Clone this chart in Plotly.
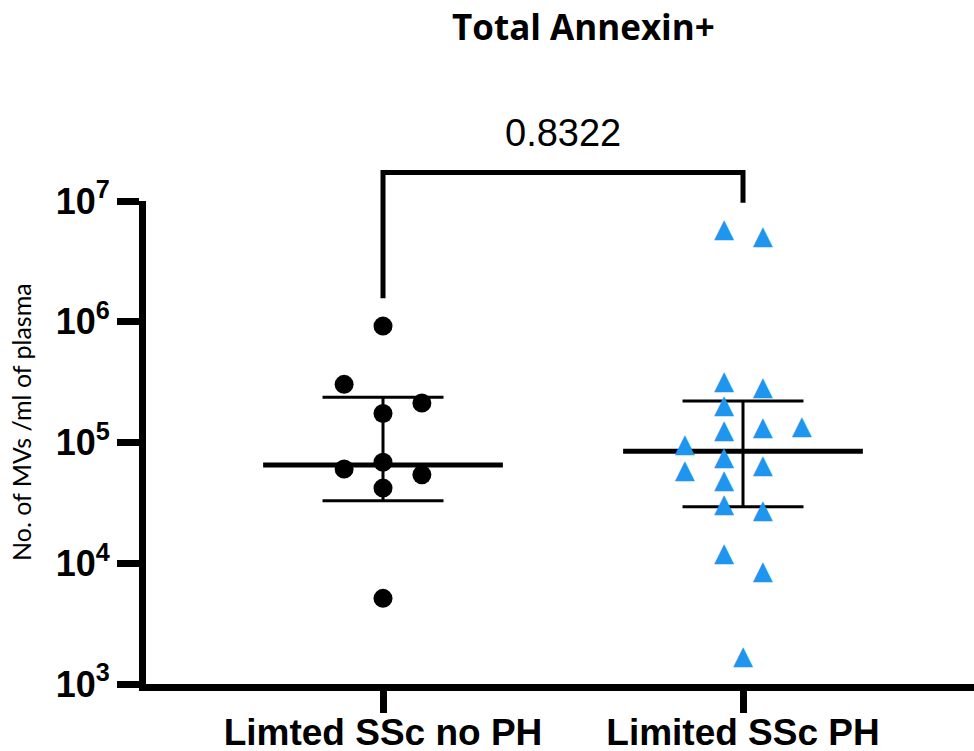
import numpy as np
import plotly.graph_objects as go

# ---- data -------------------------------------------------------------
title_text = "Total Annexin+"
y_title = "No. of MVs /ml of plasma"
groups = ["Limted SSc no PH", "Limited SSc PH"]

no_ph = [9.2e5, 3.03e5, 2.12e5, 1.74e5, 6.87e4, 6.04e4, 5.40e4, 4.19e4, 5.12e3]
ph = [5.69e6, 4.98e6, 3.14e5, 2.80e5, 1.99e5, 1.24e5, 1.31e5, 1.32e5, 9.41e4,
      7.41e4, 5.74e4, 6.36e4, 4.75e4, 2.98e4, 2.69e4, 1.18e4, 8.39e3, 1.66e3]

medians = [6.52e4, 8.46e4]
lower = [3.29e4, 2.94e4]
upper = [2.37e5, 2.21e5]

p_value = "0.8322"
y_exponents = [3, 4, 5, 6, 7]

# ---- horizontal spread of the dots inside each column ----------------
spread_no_ph = [0, -0.108, 0.108, 0, 0, -0.108, 0.108, 0, 0]
spread_ph = [-0.053, 0.055, -0.053, 0.055, -0.053, -0.053, 0.055, 0.163, -0.162,
             -0.053, -0.162, 0.055, -0.053, -0.053, 0.055, -0.053, 0.055, 0]

# ---- geometry ---------------------------------------------------------
W, H = 974, 751
M_L, M_R, M_T, M_B = 146, 0, 140, 67
plot_w = W - M_L - M_R
plot_h = H - M_T - M_B
px_per_cat = 360.0
x0_px = 383 - M_L
x_range = [-x0_px / px_per_cat, -x0_px / px_per_cat + plot_w / px_per_cat]

y_top_px = 201                     # pixel row of the highest decade
y_dom_top = (H - M_B - y_top_px) / plot_h
px_per_dec = (H - M_B - y_top_px) / (y_exponents[-1] - y_exponents[0])
y2_top = y_exponents[0] + plot_h / px_per_dec

BLUE = "#1E96F0"
AX_FONT = "Liberation Sans, Arial, sans-serif"

fig = go.Figure()

# median line and interval bars
for i in range(len(groups)):
    fig.add_trace(go.Scatter(
        x=[i - 0.333, i + 0.333], y=[medians[i], medians[i]],
        mode="lines", line=dict(color="black", width=5),
        hoverinfo="skip", showlegend=False))
    fig.add_trace(go.Scatter(
        x=[i, i, None, i - 0.168, i + 0.168, None, i - 0.168, i + 0.168],
        y=[lower[i], upper[i], None, lower[i], lower[i], None, upper[i], upper[i]],
        mode="lines", line=dict(color="black", width=3),
        hoverinfo="skip", showlegend=False))

# group without PH: black circles
fig.add_trace(go.Scatter(
    x=[0 + s for s in spread_no_ph], y=no_ph, mode="markers",
    marker=dict(symbol="circle", size=19, color="black"),
    name=groups[0], showlegend=False, cliponaxis=False))

# group with PH: blue triangles
fig.add_trace(go.Scatter(
    x=[1 + s for s in spread_ph], y=ph, mode="text", text=["▲"] * len(ph),
    textposition="middle center",
    textfont=dict(family="DejaVu Sans", size=26, color=BLUE),
    name=groups[1], showlegend=False, cliponaxis=False))

# comparison bracket
bracket_top = 1.72e7
fig.add_trace(go.Scatter(
    x=[0, 0, 1, 1],
    y=[max(no_ph) * 1.7, bracket_top, bracket_top, max(ph) * 1.7],
    xaxis="x", yaxis="y2", mode="lines",
    line=dict(color="black", width=5), hoverinfo="skip", showlegend=False))

fig.update_layout(
    width=W, height=H,
    margin=dict(l=M_L, r=M_R, t=M_T, b=M_B, autoexpand=False),
    paper_bgcolor="white", plot_bgcolor="rgba(0,0,0,0)",
    showlegend=False,
    xaxis=dict(
        range=x_range, showgrid=False, zeroline=False, automargin=False,
        showline=True, linecolor="black", linewidth=7,
        tickvals=list(range(len(groups))), ticktext=groups,
        ticks="outside", ticklen=22, tickwidth=7, tickcolor="black",
        ticklabelstandoff=-12,
        tickfont=dict(family=AX_FONT, size=37, color="black", weight="bold"),
        anchor="y"),
    yaxis=dict(
        type="log", range=[y_exponents[0], y_exponents[-1]],
        domain=[0, y_dom_top], showgrid=False, zeroline=False, automargin=False,
        showline=True, linecolor="black", linewidth=7,
        tickvals=[10 ** e for e in y_exponents],
        ticktext=[f"10<sup>{e}</sup>" for e in y_exponents],
        ticks="outside", ticklen=22, tickwidth=7, tickcolor="black",
        tickfont=dict(family=AX_FONT, size=36, color="black", weight="bold"),
        anchor="x"),
    yaxis2=dict(
        type="log", range=[y_exponents[0], y2_top], domain=[0, 1],
        visible=False, anchor="x", automargin=False),
    annotations=[
        dict(text=f"<b>{title_text}</b>", xref="paper", yref="paper",
             x=(583.5 - M_L) / plot_w, y=(H - M_B - 27) / plot_h,
             xanchor="center", yanchor="middle", showarrow=False,
             font=dict(family="Open Sans, sans-serif", size=35, color="black")),
        dict(text=p_value, xref="x", yref="paper", x=0.5,
             y=(H - M_B - 132.5) / plot_h,
             xanchor="center", yanchor="middle", showarrow=False,
             font=dict(family=AX_FONT, size=38, color="black")),
        dict(text=y_title, xref="paper", yref="paper",
             x=(21 - M_L) / plot_w, y=(H - M_B - 422) / plot_h,
             xanchor="center", yanchor="middle", textangle=-90, showarrow=False,
             font=dict(family="Lato, Open Sans, sans-serif", size=25, color="black")),
    ],
)

fig.write_html("out.html")
